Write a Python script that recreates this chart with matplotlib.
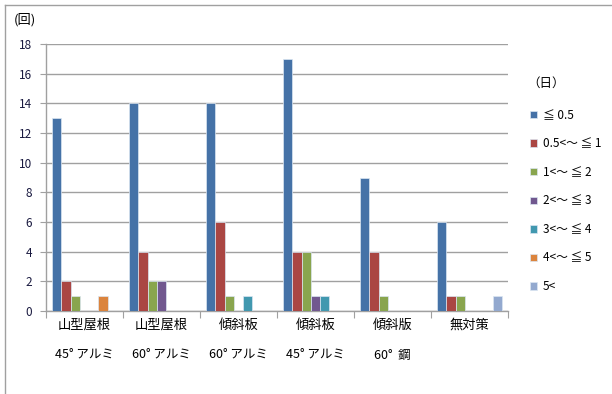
import matplotlib
matplotlib.use("Agg")
import matplotlib.pyplot as plt
import numpy as np
from matplotlib.lines import Line2D

plt.rcParams['font.family'] = ['Noto Sans CJK JP', 'DejaVu Sans']

categories_top = ["山型屋根", "山型屋根", "傾斜板", "傾斜板", "傾斜版", "無対策"]
categories_bottom = ["45° アルミ", "60° アルミ", "60° アルミ", "45° アルミ", "60°  鋼", ""]

series_names = ["≦ 0.5", "0.5<～ ≦ 1", "1<～ ≦ 2", "2<～ ≦ 3", "3<～ ≦ 4", "4<～ ≦ 5", "5<"]
series_values = [
    [13, 14, 14, 17, 9, 6],   # ≦0.5
    [2, 4, 6, 4, 4, 1],       # 0.5<～≦1
    [1, 2, 1, 4, 1, 1],       # 1<～≦2
    [0, 2, 0, 1, 0, 0],       # 2<～≦3
    [0, 0, 1, 1, 0, 0],       # 3<～≦4
    [1, 0, 0, 0, 0, 0],       # 4<～≦5
    [0, 0, 0, 0, 0, 1],       # 5<
]
colors = ["#4572A7", "#AA4643", "#89A54E", "#71588F", "#4198AF", "#DB843D", "#93A9CF"]
y_ticks = list(range(0, 19, 2))

fig = plt.figure(figsize=(6.12, 3.94), dpi=100)
ax = fig.add_axes([46 / 612, 1 - 311 / 394, (508 - 46) / 612, (311 - 44) / 394])

n_series = len(series_values)
bar_w = 0.12
x = np.arange(len(categories_top))
for i, (name, vals, c) in enumerate(zip(series_names, series_values, colors)):
    offs = (i - (n_series - 1) / 2) * bar_w
    ax.bar(x + offs, vals, width=bar_w, color=c, edgecolor="#dbe6f2",
           linewidth=0.5, label=name, zorder=3)

ax.set_xlim(-0.5, len(categories_top) - 0.5)
ax.set_ylim(0, 18)
ax.set_yticks(y_ticks)
ax.set_yticklabels([str(t) for t in y_ticks], fontsize=8.5, color="#1a1a40")
ax.yaxis.grid(True, color="#a0a0a0", linewidth=1.0, zorder=0)
ax.tick_params(axis="y", length=4, color="#a0a0a0", pad=6)

# group separator ticks on the category axis
ax.set_xticks(np.arange(-0.5, len(categories_top), 1.0))
ax.set_xticklabels([])
ax.tick_params(axis="x", length=5, color="#a0a0a0", direction="out")

for side in ["top", "right"]:
    ax.spines[side].set_visible(False)
for side in ["left", "bottom"]:
    ax.spines[side].set_color("#a0a0a0")
    ax.spines[side].set_linewidth(1.0)

for xi, top, bottom in zip(x, categories_top, categories_bottom):
    ax.text(xi, -0.98, top, ha="center", va="center", fontsize=9.5,
            transform=ax.transData, clip_on=False)
    if bottom:
        ax.text(xi, -3.0, bottom, ha="center", va="center", fontsize=9,
                transform=ax.transData, clip_on=False)

fig.text(14 / 612, 1 - 20 / 394, "(回)", fontsize=9.5, ha="left", va="center")
fig.text(527 / 612, 1 - 83 / 394, "（日）", fontsize=9, ha="left", va="center")

handles, labels = ax.get_legend_handles_labels()
leg = fig.legend(handles, labels, loc="upper left",
                 bbox_to_anchor=(525 / 612, 1 - 104 / 394),
                 frameon=False, fontsize=8.5, handlelength=0.6, handleheight=0.6,
                 handletextpad=0.5, labelspacing=1.32, borderaxespad=0)

# chart area border
fig.add_artist(Line2D([4.5 / 612, 4.5 / 612], [0, 1 - 4.5 / 394],
                      transform=fig.transFigure, color="#a0a0a0", linewidth=1))
fig.add_artist(Line2D([4.5 / 612, 1], [1 - 4.5 / 394, 1 - 4.5 / 394],
                      transform=fig.transFigure, color="#a0a0a0", linewidth=1))

fig.savefig("out.png", dpi=100)
